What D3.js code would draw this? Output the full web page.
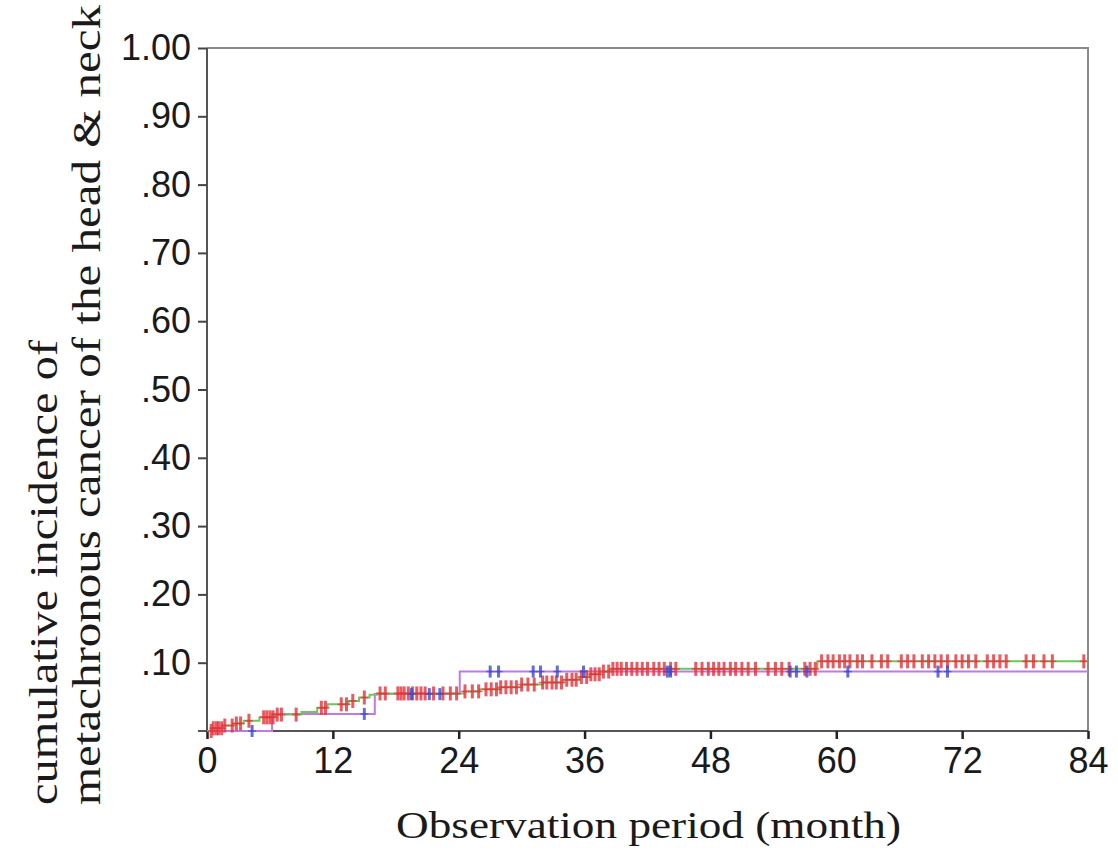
<!DOCTYPE html>
<html>
<head>
<meta charset="utf-8">
<script src="https://cdn.jsdelivr.net/npm/d3@7"></script>
<style>
  html, body { margin: 0; padding: 0; background: #fff; }
  svg { display: block; }
</style>
</head>
<body>
<script>
// Cumulative incidence step curves (months, proportion)
const xTicks = [0, 12, 24, 36, 48, 60, 72, 84];
const yTicks = [0.1, 0.2, 0.3, 0.4, 0.5, 0.6, 0.7, 0.8, 0.9, 1.0];
const yTickLabels = ['.10', '.20', '.30', '.40', '.50', '.60', '.70', '.80', '.90', '1.00'];

// larger group (green line, red censor marks)
const groupAEvents = [
  [0.5, 0.004], [1.5, 0.008], [2.5, 0.011], [3.5, 0.015], [5.0, 0.020],
  [6.5, 0.024], [9.0, 0.028], [10.5, 0.034], [11.5, 0.039], [13.5, 0.044],
  [14.5, 0.049], [15.5, 0.053], [16.2, 0.055], [24.5, 0.058], [26.0, 0.061],
  [28.0, 0.064], [30.0, 0.068], [32.0, 0.071], [34.0, 0.075], [35.5, 0.079],
  [36.5, 0.083], [37.5, 0.087], [38.5, 0.091], [58.2, 0.102]
];
const groupACensored = [
  0.4, 0.6, 0.9, 1.1, 1.4, 1.7, 2.4, 2.8, 3.2, 4.0, 5.4, 5.7, 6.0, 6.3, 6.7, 7.1,
  8.5, 10.9, 11.3, 12.8, 13.3, 13.9, 15.0, 16.5, 17.0, 18.2, 18.5, 18.8, 19.2,
  19.6, 20.0, 20.4, 20.8, 21.6, 22.5, 23.2, 23.8, 24.6, 25.3, 25.9, 26.6, 27.1,
  27.6, 28.0, 28.5, 29.0, 29.5, 30.0, 30.6, 31.2, 32.0, 32.4, 32.9, 33.3, 33.8,
  34.3, 34.8, 35.2, 35.7, 36.2, 36.6, 37.0, 37.4, 37.8, 38.3, 38.7, 39.1, 39.5,
  40.0, 40.5, 41.0, 41.5, 42.0, 42.6, 43.1, 43.6, 44.2, 44.7, 46.6, 47.2, 47.8,
  48.3, 48.8, 49.3, 49.9, 50.4, 51.0, 51.6, 52.3, 53.5, 54.2, 54.8, 55.5, 57.0,
  57.5, 58.0, 58.6, 59.2, 59.7, 60.3, 60.8, 61.3, 62.0, 62.5, 63.4, 64.3, 64.9,
  66.2, 66.8, 67.4, 68.2, 68.8, 69.4, 70.0, 70.6, 71.4, 72.0, 72.6, 73.3, 74.4,
  75.0, 75.6, 76.2, 78.1, 78.8, 79.8, 80.6, 83.6
];

// smaller group (purple line, blue censor marks)
const groupBEvents = [[6.2, 0.025], [16.0, 0.054], [24.1, 0.087]];
const groupBCensored = [
  4.3, 15.0, 19.5, 21.2, 22.2, 27.0, 27.8, 31.1, 31.8, 33.4, 35.9, 43.9, 44.2,
  55.6, 56.2, 57.2, 61.1, 69.7, 70.6
];

const W = 1118, H = 850;
const margin = { left: 207, right: 30, top: 48, bottom: 119 };

const svg = d3.select('body').append('svg')
  .attr('width', W)
  .attr('height', H);

const x = d3.scaleLinear().domain([0, 84]).range([margin.left, W - margin.right]);
const y = d3.scaleLinear().domain([0, 1]).range([H - margin.bottom, margin.top]);

// frame (top and right, grey)
svg.append('path')
  .attr('d', `M${x(0)},${y(1)}H${x(84)}V${y(0)}`)
  .attr('fill', 'none')
  .attr('stroke', '#8a8a8a')
  .attr('stroke-width', 2);

// y axis
const yAxis = svg.append('g')
  .attr('transform', `translate(${x(0)},0)`)
  .call(d3.axisLeft(y)
    .tickValues(yTicks)
    .tickFormat((d, i) => yTickLabels[i])
    .tickSize(9)
    .tickPadding(7));
yAxis.select('.domain').attr('stroke', '#555').attr('stroke-width', 2)
  .attr('d', `M0,${y(1)}V${y(0)}`);
yAxis.selectAll('.tick line').attr('stroke', '#444').attr('stroke-width', 2);
yAxis.selectAll('.tick text')
  .attr('font-family', '"Liberation Sans", Arial, sans-serif')
  .attr('font-size', 36)
  .attr('fill', '#1a1a1a');

// x axis
const xAxis = svg.append('g')
  .attr('transform', `translate(0,${y(0)})`)
  .call(d3.axisBottom(x)
    .tickValues(xTicks)
    .tickSize(8)
    .tickPadding(8));
xAxis.select('.domain').attr('stroke', '#555').attr('stroke-width', 2)
  .attr('d', `M${x(0) - 9},0H${x(84)}`);
xAxis.selectAll('.tick line').attr('stroke', '#222').attr('stroke-width', 2.5);
xAxis.selectAll('.tick text')
  .attr('font-family', '"Liberation Sans", Arial, sans-serif')
  .attr('font-size', 36)
  .attr('fill', '#1a1a1a');

// step curve helpers
function stepPoints(events) {
  const pts = [[0, 0]].concat(events);
  pts.push([84, events[events.length - 1][1]]);
  return pts;
}
function valueAt(events, t) {
  let v = 0;
  for (const e of events) if (e[0] <= t) v = e[1];
  return v;
}

const stepLine = d3.line()
  .x(d => x(d[0]))
  .y(d => y(d[1]))
  .curve(d3.curveStepAfter);

svg.append('path')
  .datum(stepPoints(groupBEvents))
  .attr('d', stepLine)
  .attr('fill', 'none')
  .attr('stroke', '#c07ae0')
  .attr('stroke-width', 2);

svg.append('path')
  .datum(stepPoints(groupAEvents))
  .attr('d', stepLine)
  .attr('fill', 'none')
  .attr('stroke', '#6cc85c')
  .attr('stroke-width', 2);

// censor marks drawn as small plus signs
function censorMarks(times, events, color, cls, half) {
  const g = svg.append('g').attr('class', cls);
  const marks = g.selectAll('g')
    .data(times)
    .join('g')
    .attr('transform', t => `translate(${x(t)},${y(valueAt(events, t))})`);
  marks.append('line')
    .attr('y1', -half).attr('y2', half)
    .attr('stroke', color).attr('stroke-width', 3).attr('stroke-opacity', 0.8);
  marks.append('line')
    .attr('x1', -4).attr('x2', 4)
    .attr('stroke', color).attr('stroke-width', 1.5).attr('stroke-opacity', 0.7);
}
censorMarks(groupACensored, groupAEvents, '#e8303a', 'censor-a', 7);
censorMarks(groupBCensored, groupBEvents, '#3a4ad0', 'censor-b', 6);

// axis titles
svg.append('text')
  .attr('x', (x(0) + x(84)) / 2 + 1)
  .attr('y', 838)
  .attr('text-anchor', 'middle')
  .attr('font-family', '"Liberation Serif", "Times New Roman", serif')
  .attr('font-size', 38)
  .attr('textLength', 505)
  .attr('lengthAdjust', 'spacingAndGlyphs')
  .attr('fill', '#1a1a1a')
  .text('Observation period (month)');

const yTitle = [
  { text: 'cumulative incidence of', base: 57, len: 465 },
  { text: 'metachronous cancer of the head & neck', base: 100, len: 800 }
];
svg.append('g')
  .selectAll('text')
  .data(yTitle)
  .join('text')
  .attr('transform', d => `translate(${d.base},805) rotate(-90)`)
  .attr('font-family', '"Liberation Serif", "Times New Roman", serif')
  .attr('font-size', 39)
  .attr('textLength', d => d.len)
  .attr('lengthAdjust', 'spacingAndGlyphs')
  .attr('fill', '#1a1a1a')
  .text(d => d.text);
</script>
</body>
</html>
